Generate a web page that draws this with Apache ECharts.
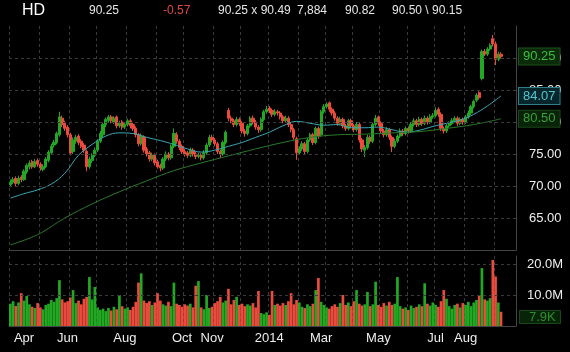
<!DOCTYPE html>
<html style="height: 100%">
<head>
<meta charset="utf-8">
<script src="https://cdn.jsdelivr.net/npm/echarts@6/dist/echarts.min.js"></script>
</head>
<body style="height: 100%; margin: 0; background: #000">
<div id="container" style="width: 570px; height: 352px"></div>
<script type="text/javascript">
// HD daily-ish candles, Apr 2013 - Aug 2014 (each bar ~2 sessions)
var open = [
70.2,70.6,71.2,70.4,71.4, 71.0,72.2,73.0,73.8,73.0, 74.0,73.4,72.6,73.0,74.0, 75.2,76.4,76.8,78.0,80.6,
79.8,79.2,78.0,75.4,77.0, 77.8,77.0,76.4,75.4,73.0, 74.0,74.8,75.6,77.0,78.0, 79.6,80.2,80.8,80.0,80.8,
79.4,80.0,79.2,79.6,80.2, 79.6,79.0,78.0,76.6,77.6, 75.8,75.2,74.2,74.8,73.8, 73.2,72.8,74.2,75.0,74.4,
76.2,78.0,77.0,76.2,75.4, 75.2,74.8,75.6,75.0,74.6, 74.8,74.4,75.2,76.4,77.6, 77.2,76.6,75.4,75.0,76.8,
81.8,80.6,80.2,79.6,80.4, 79.8,78.6,78.2,79.4,80.6, 80.0,79.2,78.8,80.4,81.6, 82.2,81.8,81.2,81.6,81.4,
80.8,80.2,80.6,79.6,78.8, 77.4,75.2,75.8,76.6,75.4, 77.2,78.0,76.8,79.0,78.0, 81.6,82.4,83.0,82.0,81.4,
80.6,79.8,80.4,79.4,79.0, 80.2,79.4,78.8,79.6,77.2, 75.6,76.0,77.6,77.0,79.6, 80.8,79.8,78.6,78.0,78.8,
77.6,76.2,77.0,77.8,78.6, 78.2,79.0,78.6,79.6,80.2, 79.6,80.4,79.8,80.6,80.0, 80.8,81.0,82.0,81.2,79.0,
78.6,79.4,79.8,80.2,80.6, 79.8,80.4,80.0,80.8,81.4, 82.4,83.4,84.6,86.8,91.0, 90.6,91.4,93.0,92.2,89.8,
90.6
];
var close = [
70.6,71.0,70.4,71.2,71.0, 72.3,73.2,73.6,73.0,73.8, 73.4,72.8,73.0,74.2,75.3, 76.2,76.8,78.2,80.8,79.6,
79.0,78.0,75.2,77.2,77.6, 76.8,76.2,75.6,73.0,74.2, 74.8,75.6,77.0,78.2,79.6, 80.4,80.8,80.2,80.6,79.4,
79.8,79.2,79.6,80.2,79.4, 79.0,78.0,76.6,77.8,75.6, 75.0,74.2,74.8,73.6,73.0, 72.8,74.2,75.0,74.4,76.2,
78.2,77.0,76.0,75.4,75.0, 74.8,75.6,75.0,74.6,74.8, 74.4,75.2,76.4,77.6,77.2, 76.6,75.4,75.0,76.8,78.4,
80.6,80.2,79.6,80.4,79.8, 78.6,78.2,79.4,80.6,80.0, 79.2,78.8,80.4,81.6,82.0, 81.8,81.2,81.6,81.4,80.8,
80.2,80.6,79.6,78.8,77.6, 75.2,75.8,76.6,75.4,77.2, 78.0,76.8,79.0,77.8,81.6, 82.4,82.8,82.0,81.4,80.6,
79.8,80.4,79.4,79.0,80.2, 79.4,78.8,79.6,77.2,75.8, 76.0,77.6,77.0,79.6,80.6, 79.8,78.6,78.0,78.8,77.6,
76.2,77.0,77.8,78.6,78.2, 79.0,78.6,79.6,80.2,79.6, 80.4,79.8,80.6,80.0,80.8, 81.0,81.8,81.2,79.0,78.6,
79.4,79.8,80.2,80.6,79.8, 80.4,80.0,80.8,81.4,82.4, 83.2,84.2,83.8,91.0,90.6, 91.4,92.0,92.2,89.8,90.6,
90.25
];
var low = [
69.8,70.3,70.0,70.1,70.6, 70.8,71.9,72.6,72.7,72.8, 73.0,72.4,72.3,72.8,73.7, 74.9,76.0,76.5,77.7,79.2,
78.6,77.6,74.8,75.0,76.6, 76.4,75.9,75.2,72.3,72.7, 73.6,74.5,75.3,76.7,77.6, 79.2,79.9,79.8,79.7,79.0,
79.1,78.8,78.9,79.3,79.0, 78.6,77.6,76.2,76.3,75.2, 74.6,73.8,73.9,73.2,72.7, 72.3,72.5,73.9,74.0,74.1,
75.9,76.6,75.6,75.0,74.6, 74.4,74.5,74.6,74.2,74.3, 74.0,74.1,74.9,76.1,76.8, 76.2,75.0,74.4,74.7,76.5,
80.1,79.8,79.2,79.3,79.4, 78.2,77.7,77.9,79.1,79.6, 78.8,78.3,78.5,80.1,81.3, 81.4,80.8,80.9,81.0,80.4,
79.8,79.9,79.2,78.4,77.2, 74.1,74.9,75.5,75.0,75.1, 76.9,76.4,76.5,77.4,77.7, 81.3,82.1,81.6,81.0,80.2,
79.4,79.5,79.0,78.6,78.7, 79.0,78.4,78.5,76.8,75.3, 74.5,75.7,76.6,76.7,79.3, 79.4,78.2,77.6,77.7,77.2,
75.3,75.9,76.7,77.5,77.8, 77.9,78.2,78.3,79.3,79.2, 79.3,79.4,79.5,79.6,79.7, 80.5,80.7,80.8,78.6,78.2,
78.3,79.1,79.5,79.9,79.4, 79.5,79.6,79.7,80.5,81.1, 82.1,83.1,83.5,86.5,90.3, 90.3,91.1,91.8,88.9,89.5,
89.9
];
var high = [
71.0,71.4,71.5,71.6,71.7, 72.6,73.5,74.0,74.1,74.2, 74.3,73.7,73.4,74.5,75.6, 76.6,77.2,78.5,81.6,81.0,
80.2,79.5,78.3,77.6,78.0, 78.1,77.3,76.7,75.7,74.6, 75.1,76.0,77.3,78.6,79.9, 80.7,81.1,81.1,80.9,81.0,
80.2,80.3,80.0,80.5,80.5, 79.9,79.3,78.3,78.2,77.9, 76.1,75.5,75.2,75.1,74.1, 73.5,74.5,75.4,75.3,76.5,
79.0,78.4,77.3,76.5,75.8, 75.5,76.0,75.9,75.3,75.2, 75.1,75.6,76.7,78.0,78.0, 77.5,76.9,75.7,77.1,78.7,
82.2,81.0,80.5,80.8,80.7, 80.1,78.9,79.7,80.9,81.0, 80.3,79.5,80.7,81.9,82.5, 82.5,82.1,82.0,81.9,81.7,
81.1,81.0,80.9,79.9,79.1, 77.7,76.2,77.0,76.9,77.5, 78.3,78.3,79.3,79.3,81.9, 82.8,83.1,83.2,82.3,81.7,
80.9,80.8,80.7,79.7,80.5, 80.5,79.7,80.0,79.9,77.5, 76.4,78.0,77.9,79.9,81.1, 81.0,80.1,78.9,79.2,79.1,
77.9,77.4,78.1,79.0,78.9, 79.3,79.3,80.0,80.6,80.5, 80.8,80.7,81.0,80.9,81.2, 81.4,82.3,82.3,81.5,79.3,
79.7,80.1,80.6,80.9,80.9, 80.7,80.7,81.1,81.8,82.7, 83.5,84.5,84.8,91.3,91.4, 91.7,92.3,93.6,92.6,91.0,
90.9
];
// volume in millions
var volume = [
7.2,8.0,6.5,7.6,10.6, 8.2,9.7,7.0,6.2,5.8, 7.4,6.0,5.4,6.8,7.2, 8.4,7.8,9.0,14.8,8.6,
7.6,8.0,9.2,11.6,7.4, 8.2,7.0,8.8,9.4,15.8, 8.6,12.6,6.0,5.2,5.6, 4.8,5.8,5.0,6.2,5.4,
10.0,6.4,5.6,6.0,5.2, 6.2,7.8,14.0,17.0,8.2, 7.4,8.0,6.8,7.6,10.6, 8.2,7.0,6.6,7.8,6.4,
14.0,7.2,6.8,6.2,7.0, 6.6,7.2,6.0,13.0,14.5, 6.0,5.4,10.0,5.8,6.2, 7.4,8.0,9.4,7.6,8.2,
12.0,7.0,8.4,9.4,6.8, 7.2,6.4,7.0,6.6,7.4, 6.0,11.3,4.2,3.8,4.4, 3.6,11.3,6.8,7.2,6.6,
7.4,6.8,8.0,10.6,7.0, 8.4,7.6,6.2,5.8,7.0, 6.4,7.2,11.6,15.5,7.8, 6.8,6.0,5.6,6.4,7.0,
6.2,7.4,10.0,6.8,7.6, 6.4,8.0,11.6,7.2,6.6, 7.0,11.0,6.4,7.0,14.3, 6.8,6.2,7.4,6.6,7.8,
6.8,7.2,15.8,6.4,5.6, 6.0,5.2,6.6,5.8,6.2, 7.0,6.4,13.8,7.2,6.6, 7.6,6.8,6.2,8.0,11.6,
8.8,6.4,5.6,6.8,7.2, 6.0,7.4,6.8,7.8,6.4, 7.6,8.4,10.0,18.7,8.6, 8.2,9.0,21.3,16.0,7.6,
4.6
];
// moving averages, read at sparse bar positions
var ma50Idx = [0,5,10,15,20,25,30,35,40,45,50,55,60,65,70,75,80,85,90,95,100,105,110,115,120,125,130,135,140,145,150,155,160,165,170,175,180];
var ma50 = [68.1,68.8,69.4,70.3,72.0,74.8,76.5,77.8,78.3,78.2,77.6,77.1,76.5,75.8,75.3,75.6,76.2,76.8,77.6,78.4,79.4,80.1,79.8,79.5,79.6,79.1,79.1,79.2,78.8,78.4,78.7,79.3,79.8,80.3,81.2,82.5,84.07];
var ma200Idx = [0,10,20,30,40,50,60,70,80,90,100,110,120,130,140,150,160,170,180];
var ma200 = [60.8,62.4,65.0,67.2,69.1,70.8,72.4,73.6,74.7,75.8,76.8,77.6,78.0,78.1,78.3,78.5,79.0,79.6,80.5];

// x axis: month boundaries for grid, and label positions
var monthIdx = [0,11,22,32,43,54,64,75,85,95,106,116,126,136,146,156,167,178];
var tickIdx = [5,21,42,63,74,95,114,135,156,167];
var tickLabels = ['Apr','Jun','Aug','Oct','Nov','2014','Mar','May','Jul','Aug'];
var priceGrid = [65,70,75,80,85,90];
var volGrid = [10,20];
var lastVolText = '7.9K';

var header = [
    ['HD', 22, 16, '#ffffff'],
    ['90.25', 89, 12, '#e6e6e6'],
    ['-0.57', 163, 12, '#e04848'],
    ['90.25 x 90.49', 218, 12, '#e6e6e6'],
    ['7,884', 297, 12, '#e6e6e6'],
    ['90.82', 345, 12, '#e6e6e6'],
    ['90.50 \\ 90.15', 392, 12, '#e6e6e6']
];

var UP = '#22a822', DOWN = '#ea4b3d';
var FONT = 'Liberation Sans, Arial, sans-serif';
var n = close.length;
var cats = [];
for (var i = 0; i < n + 5; i++) cats.push(i);

var candles = close.map(function (c, i) { return [open[i], c, low[i], high[i]]; });
var volData = volume.map(function (v, i) {
    return { value: v, itemStyle: { color: close[i] >= open[i] ? UP : DOWN } };
});
var ma50Data = ma50Idx.map(function (x, i) { return [x, ma50[i]]; });
var ma200Data = ma200Idx.map(function (x, i) { return [x, ma200[i]]; });

var gridLine = { color: '#3a3a3a', type: [3, 3], width: 1 };
function tag(v, fg, bg, border) {
    return {
        yAxis: v,
        lineStyle: { color: 'rgba(0,0,0,0)', width: 1 },
        label: {
            show: true, position: 'end', distance: 3,
            formatter: v.toFixed(2), color: fg, fontSize: 13, fontFamily: FONT,
            backgroundColor: bg, borderColor: border, borderWidth: 1, padding: [2, 4, 1, 4]
        }
    };
}

var dom = document.getElementById('container');
var myChart = echarts.init(dom);
var option = {
    backgroundColor: '#000',
    animation: false,
    graphic: header.map(function (h) {
        return { type: 'text', left: h[1], top: 12 - h[2] / 2 - 1,
            style: { text: h[0], fill: h[3], font: h[2] + 'px ' + FONT } };
    }),
    grid: [
        { left: 9, right: 54, top: 26, height: 224 },
        { left: 9, right: 54, top: 256, height: 70 }
    ],
    xAxis: [{
        type: 'category', gridIndex: 0, data: cats,
        axisLine: { lineStyle: { color: '#444' } },
        axisTick: { show: false }, axisLabel: { show: false },
        splitLine: { show: true, interval: function (i) { return monthIdx.indexOf(i) >= 0; }, lineStyle: gridLine }
    }, {
        type: 'category', gridIndex: 1, data: cats,
        axisLine: { lineStyle: { color: '#444' } },
        axisTick: { show: false },
        axisLabel: {
            interval: function (i) { return tickIdx.indexOf(i) >= 0; },
            formatter: function (v, i) { var k = tickIdx.indexOf(i); return k >= 0 ? tickLabels[k] : ''; },
            color: '#eeeeee', fontSize: 13, fontFamily: FONT, margin: 6
        },
        splitLine: { show: true, interval: function (i) { return monthIdx.indexOf(i) >= 0; }, lineStyle: gridLine }
    }],
    yAxis: [{
        type: 'value', gridIndex: 0, position: 'right', min: 60, max: 95, interval: 5,
        axisLine: { show: true, lineStyle: { color: '#444' } },
        axisTick: { show: false }, splitLine: { show: false },
        axisLabel: { color: '#eeeeee', fontSize: 13, fontFamily: FONT, margin: 13,
            showMinLabel: false, showMaxLabel: false,
            formatter: function (v) { return v.toFixed(2); } }
    }, {
        type: 'value', gridIndex: 1, position: 'right', min: 0, max: 22.6, interval: 10,
        axisLine: { show: true, lineStyle: { color: '#444' } },
        axisTick: { show: false }, splitLine: { show: false },
        axisLabel: { color: '#eeeeee', fontSize: 13, fontFamily: FONT, margin: 11,
            showMinLabel: false, showMaxLabel: false,
            formatter: function (v) { return v.toFixed(1) + 'M'; } }
    }],
    series: [{
        type: 'candlestick', xAxisIndex: 0, yAxisIndex: 0, data: candles, barWidth: 2.7,
        itemStyle: { color: UP, color0: DOWN, borderColor: UP, borderColor0: DOWN, borderWidth: 1 },
        markLine: {
            silent: true, symbol: 'none', animation: false,
            data: priceGrid.map(function (v) {
                return { yAxis: v, lineStyle: gridLine, label: { show: false } };
            })
        }
    }, {
        type: 'line', xAxisIndex: 0, yAxisIndex: 0, data: ma50Data, smooth: 0.4,
        symbol: 'none', lineStyle: { color: '#3aa6b4', width: 1 }
    }, {
        type: 'line', xAxisIndex: 0, yAxisIndex: 0, data: ma200Data, smooth: 0.4,
        symbol: 'none', lineStyle: { color: '#2a7a2a', width: 1 }
    }, {
        // value tags at the right edge of the price pane
        type: 'line', xAxisIndex: 0, yAxisIndex: 0, data: [], z: 10,
        markLine: { silent: true, symbol: 'none', animation: false,
            data: [
                tag(close[n - 1], '#3cbf3c', '#0a2a0a', '#1d521d'),
                tag(ma50[ma50.length - 1], '#4ec6d4', '#07262c', '#2f7f8a'),
                tag(ma200[ma200.length - 1], '#3a9e3a', '#082408', '#1a461a')
            ] }
    }, {
        type: 'bar', xAxisIndex: 1, yAxisIndex: 1, data: volData, barWidth: 2.7,
        markLine: {
            silent: true, symbol: 'none', animation: false,
            data: volGrid.map(function (v) {
                return { yAxis: v, lineStyle: gridLine, label: { show: false } };
            })
        }
    }]
};
myChart.setOption(option, true);

// last-volume tag, pinned to the bottom of the volume pane
var yb = myChart.convertToPixel({ yAxisIndex: 1 }, 0);
var g = option.graphic.slice();
g.push({ type: 'rect', left: 519, top: yb - 16, shape: { width: 41, height: 13 },
    style: { fill: '#082408', stroke: '#1a461a', lineWidth: 1 } });
g.push({ type: 'text', left: 529, top: yb - 15,
    style: { text: lastVolText, fill: '#2e8e2e', font: '13px ' + FONT } });
myChart.setOption({ graphic: g });
</script>
</body>
</html>
